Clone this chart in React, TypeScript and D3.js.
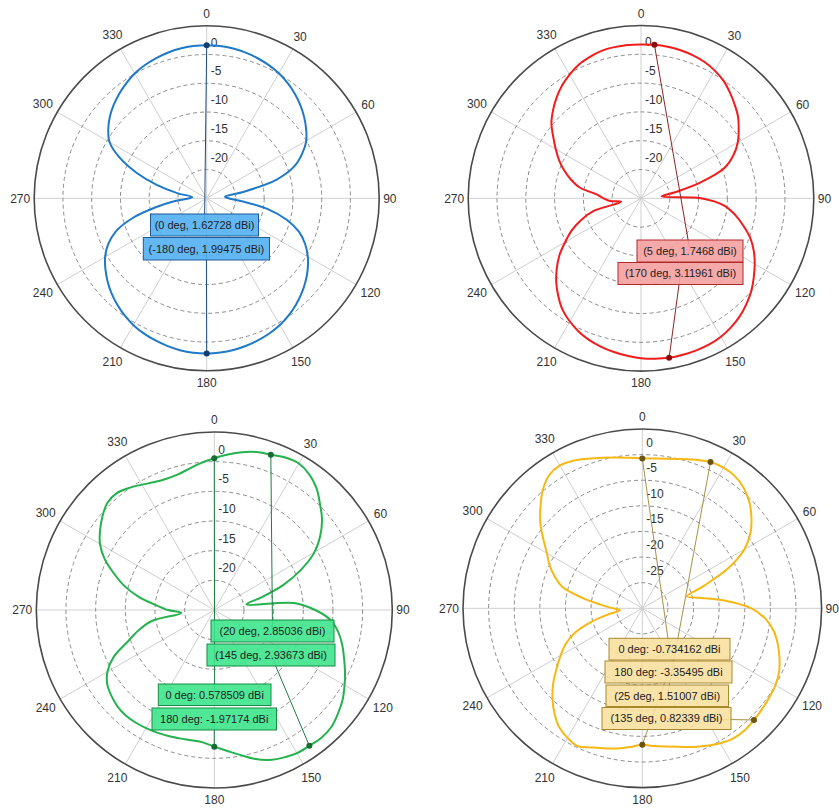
import React from "react";
import * as d3 from "d3";

// ---------- data ----------
const ANGLES = d3.range(0, 360, 5);
const ANGLE_TICKS = [0, 30, 60, 90, 120, 150, 180, 210, 240, 270, 300, 330];
const RING_TICKS_25 = [0, -5, -10, -15, -20];
const RING_TICKS_30 = [0, -5, -10, -15, -20, -25];

const BLUE_GAIN = [
  1.63, 1.58, 1.45, 1.22, 0.92, 0.55, 0.1, -0.5, -1.2, -2.0, -2.9, -3.9, -5.0, -6.7, -8.8, -12.4, -18.4, -21.8,
  -21.2, -18.7, -14.2, -10.6, -7.9, -6.1, -4.7, -3.55, -2.55, -1.65, -0.85, -0.15, 0.45, 0.9, 1.25, 1.55, 1.8, 1.94,
  1.99, 1.95, 1.82, 1.58, 1.27, 0.92, 0.48, -0.12, -0.82, -1.6, -2.5, -3.5, -4.6, -6.1, -8.2, -11.6, -16.0, -19.5,
  -22.0, -22.5, -19.8, -16.0, -12.0, -8.3, -5.5, -4.1, -3.0, -2.1, -1.3, -0.6, 0.05, 0.52, 0.9, 1.2, 1.44, 1.58,
];
const RED_GAIN = [
  1.72, 1.75, 1.72, 1.6, 1.4, 1.1, 0.6, -0.05, -1.0, -2.0, -3.0, -4.3, -5.6, -7.3, -9.6, -14.3, -19.0, -21.4,
  -14.6, -10.5, -8.4, -6.6, -4.8, -3.4, -2.2, -1.1, 0.0, 0.9, 1.7, 2.3, 2.75, 3.0, 3.1, 3.12, 3.12, 2.95,
  2.75, 2.45, 2.1, 1.7, 1.2, 0.55, -0.3, -1.3, -2.7, -4.2, -5.9, -7.7, -9.8, -11.7, -13.9, -16.5, -21.5, -19.6,
  -18.5, -17.3, -14.2, -12.4, -10.8, -9.3, -7.9, -6.4, -4.7, -3.4, -2.2, -1.1, -0.2, 0.6, 1.1, 1.5, 1.65, 1.72,
];
const GREEN_GAIN = [
  0.58, 1.3, 2.0, 2.55, 2.85, 3.35, 3.5, 2.9, 1.8, 0.2, -1.3, -3.2, -5.5, -8.8, -12.6, -16.8, -19.5, -11.5,
  -8.0, -5.3, -3.8, -2.7, -1.75, -0.7, 0.35, 1.4, 2.2, 2.9, 3.1, 2.94, 2.87, 2.45, 1.9, 0.95, -0.2, -1.2,
  -1.97, -2.6, -2.7, -2.6, -2.4, -2.2, -2.0, -1.85, -1.78, -1.95, -2.4, -3.0, -4.2, -6.3, -9.5, -11.8, -14.3, -19.4,
  -17.2, -15.0, -12.0, -9.3, -7.0, -4.6, -2.75, -1.5, -0.4, 0.5, 0.66, 0.1, -0.6, -1.2, -1.45, -1.35, -0.8, -0.1,
];
const YELLOW_GAIN = [
  -0.73, -0.65, -0.35, 0.15, 0.85, 1.51, 1.7, 1.5, 0.75, -0.5, -2.2, -4.2, -7.0, -11.5, -17.3, -21.0, -18.3, -13.5,
  -8.7, -5.8, -3.9, -2.6, -1.5, -0.55, 0.0, 0.3, 0.55, 0.82, 1.1, 1.0, 0.4, -0.4, -1.2, -2.0, -2.6, -3.0,
  -3.35, -2.8, -2.2, -1.7, -1.1, -0.3, -0.8, -1.7, -3.3, -5.2, -7.3, -9.6, -11.6, -13.5, -16.0, -19.6, -23.3, -25.6,
  -24.2, -21.8, -18.0, -13.8, -11.8, -10.0, -8.5, -6.4, -4.0, -1.9, 0.2, 1.7, 2.2, 1.8, 1.05, 0.4, -0.1, -0.5,
];

const BLUE_MARK_ANGLES = [0, 180];
const BLUE_MARK_VALUES = [1.62728, 1.99475];
const BLUE_MARK_LABELS = ["(0 deg, 1.62728 dBi)", "(-180 deg, 1.99475 dBi)"];

const RED_MARK_ANGLES = [5, 170];
const RED_MARK_VALUES = [1.7468, 3.11961];
const RED_MARK_LABELS = ["(5 deg, 1.7468 dBi)", "(170 deg, 3.11961 dBi)"];

const GREEN_MARK_ANGLES = [20, 145, 0, 180];
const GREEN_MARK_VALUES = [2.85036, 2.93673, 0.578509, -1.97174];
const GREEN_MARK_LABELS = ["(20 deg, 2.85036 dBi)", "(145 deg, 2.93673 dBi)", "0 deg: 0.578509 dBi", "180 deg: -1.97174 dBi"];

const YELLOW_MARK_ANGLES = [0, 180, 25, 135];
const YELLOW_MARK_VALUES = [-0.734162, -3.35495, 1.51007, 0.82339];
const YELLOW_MARK_LABELS = ["0 deg: -0.734162 dBi", "180 deg: -3.35495 dBi", "(25 deg, 1.51007 dBi)", "(135 deg, 0.82339 dBi)"];

// ---------- layout / style ----------
const PANELS = [
  {
    cx: 206.7, cy: 198.3, R: 172.5, min: -25, max: 5, ticks: RING_TICKS_25,
    gains: BLUE_GAIN, markA: BLUE_MARK_ANGLES, markV: BLUE_MARK_VALUES, labels: BLUE_MARK_LABELS,
    boxes: [[150.5, 214, 258.5, 236], [143.3, 237.5, 269.5, 260]],
    curve: "#1f79c9", dark: "#0f3f72", leader: "#1a4f85", fill: "#52aff2", border: "#1d5a96",
  },
  {
    cx: 641, cy: 198.3, R: 172.8, min: -25, max: 5, ticks: RING_TICKS_25,
    gains: RED_GAIN, markA: RED_MARK_ANGLES, markV: RED_MARK_VALUES, labels: RED_MARK_LABELS,
    boxes: [[637, 240, 743, 262], [618, 262.5, 743, 284.5]],
    curve: "#f21c1c", dark: "#8b0a0a", leader: "#8b2424", fill: "#f5a0a0", border: "#b02a2a",
  },
  {
    cx: 214.3, cy: 610, R: 178, min: -25, max: 5, ticks: RING_TICKS_25,
    gains: GREEN_GAIN, markA: GREEN_MARK_ANGLES, markV: GREEN_MARK_VALUES, labels: GREEN_MARK_LABELS,
    boxes: [[211, 620, 334, 642], [207, 644, 335, 666], [158.3, 684, 271, 705.5], [152, 708, 276.5, 730]],
    curve: "#25b24e", dark: "#176b33", leader: "#1e7a40", fill: "#3de68c", border: "#1b8a45",
  },
  {
    cx: 642.3, cy: 608.3, R: 179.3, min: -30, max: 5, ticks: RING_TICKS_30,
    gains: YELLOW_GAIN, markA: YELLOW_MARK_ANGLES, markV: YELLOW_MARK_VALUES, labels: YELLOW_MARK_LABELS,
    boxes: [[609, 638.3, 730, 660], [605, 661, 732, 683], [606, 685, 728.5, 706.5], [602, 707.5, 731, 729.5]],
    curve: "#f7b814", dark: "#6b5410", leader: "#a89046", fill: "#f8e0a0", border: "#a8882f",
  },
];

const FONT = "'Liberation Sans', Arial, sans-serif";
const rad = (deg: number) => (deg * Math.PI) / 180;

function PolarPanel({ p }: { p: (typeof PANELS)[number] }) {
  const r = d3.scaleLinear().domain([p.min, p.max]).range([0, p.R]).clamp(true);
  const line = d3
    .lineRadial<number>()
    .angle((_, i) => rad(ANGLES[i]))
    .radius((v) => r(v))
    .curve(d3.curveCatmullRomClosed.alpha(0.5));
  const pt = (deg: number, radius: number) => [p.cx + radius * Math.sin(rad(deg)), p.cy - radius * Math.cos(rad(deg))];
  const markers = p.markA.map((a, i) => pt(a, r(p.markV[i])));

  return (
    <g>
      {ANGLE_TICKS.map((a) => {
        const [x2, y2] = pt(a, p.R);
        return <line key={"s" + a} x1={p.cx} y1={p.cy} x2={x2} y2={y2} stroke="#cfcfcf" strokeWidth={1} />;
      })}
      {p.ticks.map((t) => (
        <circle key={"c" + t} cx={p.cx} cy={p.cy} r={r(t)} fill="none" stroke="#8c8c8c" strokeWidth={1} strokeDasharray="4,3" />
      ))}
      <circle cx={p.cx} cy={p.cy} r={p.R} fill="none" stroke="#4a4a4a" strokeWidth={1.6} />
      {p.ticks.map((t) => (
        <text key={"t" + t} x={p.cx + 4} y={p.cy - r(t) - 8} fontSize={12} fontFamily={FONT} fill="#333">
          {t}
        </text>
      ))}
      {ANGLE_TICKS.map((a) => {
        const label = String(a);
        const w = label.length * 6.67;
        const pad = 4 + Math.abs(Math.cos(rad(a))) * 8 + Math.abs(Math.sin(rad(a))) * (w / 2);
        const [x, y] = pt(a, p.R + pad);
        return (
          <text key={"a" + a} x={x} y={y} dy="0.35em" textAnchor="middle" fontSize={12} fontFamily={FONT} fill="#333">
            {label}
          </text>
        );
      })}
      <path d={line(p.gains) || ""} transform={`translate(${p.cx},${p.cy})`} fill="none" stroke={p.curve} strokeWidth={2} />
      {markers.map(([mx, my], i) => {
        const b = p.boxes[i];
        return (
          <line key={"l" + i} x1={mx} y1={my} x2={(b[0] + b[2]) / 2} y2={(b[1] + b[3]) / 2} stroke={p.leader} strokeWidth={1} />
        );
      })}
      {markers.map(([mx, my], i) => (
        <circle key={"m" + i} cx={mx} cy={my} r={3} fill={p.dark} />
      ))}
      {p.boxes.map((b, i) => (
        <g key={"b" + i}>
          <rect x={b[0]} y={b[1]} width={b[2] - b[0]} height={b[3] - b[1]} fill={p.fill} fillOpacity={0.9} stroke={p.border} strokeWidth={1} />
          <text x={(b[0] + b[2]) / 2} y={(b[1] + b[3]) / 2} dy="0.35em" textAnchor="middle" fontSize={11} fontFamily={FONT} fill="#222">
            {p.labels[i]}
          </text>
        </g>
      ))}
    </g>
  );
}

export default function App() {
  return (
    <svg
      width={839}
      height={809}
      viewBox="0 0 839 809"
      style={{ position: "absolute", left: 0, top: 0, background: "#fff" }}
    >
      <rect width={839} height={809} fill="#fff" />
      {PANELS.map((p, i) => (
        <PolarPanel key={i} p={p} />
      ))}
    </svg>
  );
}
